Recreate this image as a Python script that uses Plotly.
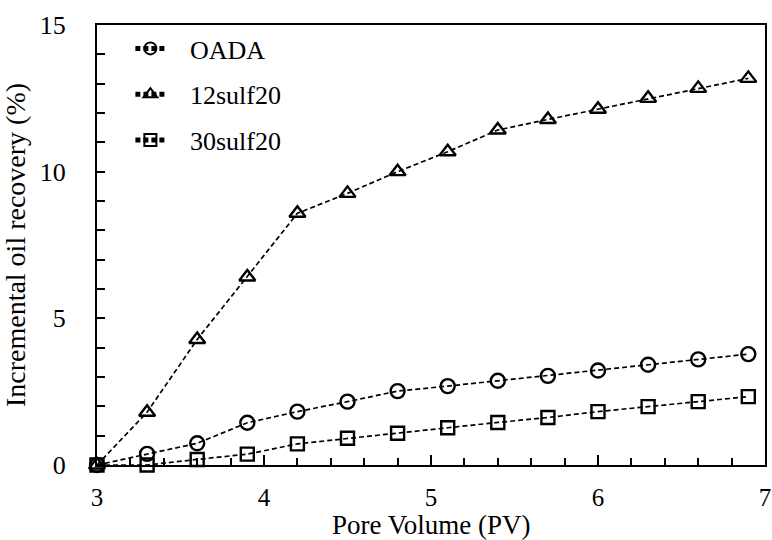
import plotly.graph_objects as go

pore_volume = [3.0, 3.3, 3.6, 3.9, 4.2, 4.5, 4.8, 5.1, 5.4, 5.7, 6.0, 6.3, 6.6, 6.9]
oada = [0.0, 0.38, 0.74, 1.44, 1.82, 2.16, 2.52, 2.69, 2.87, 3.04, 3.22, 3.42, 3.60, 3.78]
sulf12_20 = [0.0, 1.80, 4.28, 6.41, 8.58, 9.26, 10.0, 10.68, 11.42, 11.78, 12.13, 12.50, 12.84, 13.18]
sulf30_20 = [0.0, 0.0, 0.19, 0.37, 0.72, 0.91, 1.08, 1.27, 1.45, 1.62, 1.82, 1.99, 2.16, 2.33]

series_names = ["OADA", "12sulf20", "30sulf20"]
series_values = [oada, sulf12_20, sulf30_20]
symbols = ["circle-open", "triangle-up-open", "square-open"]
sizes = [14, 14, 13]

FONT = "Liberation Serif"

fig = go.Figure()
for name, vals, sym, sz in zip(series_names, series_values, symbols, sizes):
    fig.add_trace(go.Scatter(
        x=pore_volume, y=vals, name="\u00a0" * 3 + name, mode="lines+markers",
        line=dict(color="black", width=1.7, dash="5px,3px"),
        marker=dict(symbol=sym, size=sz, color="black", line=dict(width=2.4, color="black")),
        cliponaxis=False, legendgroup=name,
    ))

fig.update_layout(
    width=772, height=540,
    margin=dict(l=97, r=7, t=25, b=75),
    paper_bgcolor="white", plot_bgcolor="white",
    font=dict(family=FONT, size=26, color="black"),
    showlegend=True,
    legend=dict(x=0.05, y=1.0, xanchor="left", yanchor="top",
                bgcolor="rgba(0,0,0,0)", font=dict(family=FONT, size=26, color="black"),
                tracegroupgap=9, itemsizing="constant"),
    annotations=[dict(text="Pore Volume (PV)", xref="paper", yref="paper",
                      x=0.5, y=-0.136, xanchor="center", yanchor="middle",
                      showarrow=False, font=dict(family=FONT, size=27, color="black"))],
)

fig.update_xaxes(
    range=[3, 7], dtick=1, tick0=3, automargin=False,
    showline=True, linecolor="black", linewidth=2, mirror=True,
    showgrid=False, zeroline=False,
    ticks="inside", ticklen=10, tickwidth=1.6, tickcolor="black",
    minor=dict(dtick=0.2, ticks="inside", ticklen=7, tickwidth=1.6, tickcolor="black", showgrid=False),
    ticklabelstandoff=9,
    tickfont=dict(family=FONT, size=25, color="black"),
)
fig.update_yaxes(
    range=[0, 15], dtick=5, automargin=False,
    showline=True, linecolor="black", linewidth=2, mirror=True,
    showgrid=False, zeroline=False,
    ticks="inside", ticklen=8, tickwidth=1.6, tickcolor="black",
    minor=dict(dtick=1, ticks="inside", ticklen=8, tickwidth=1.6, tickcolor="black", showgrid=False),
    ticklabelstandoff=24,
    tickfont=dict(family=FONT, size=26, color="black"),
    title=dict(text="Incremental oil recovery (%)", font=dict(family=FONT, size=28, color="black"), standoff=6),
)

fig.write_html("out.html")
